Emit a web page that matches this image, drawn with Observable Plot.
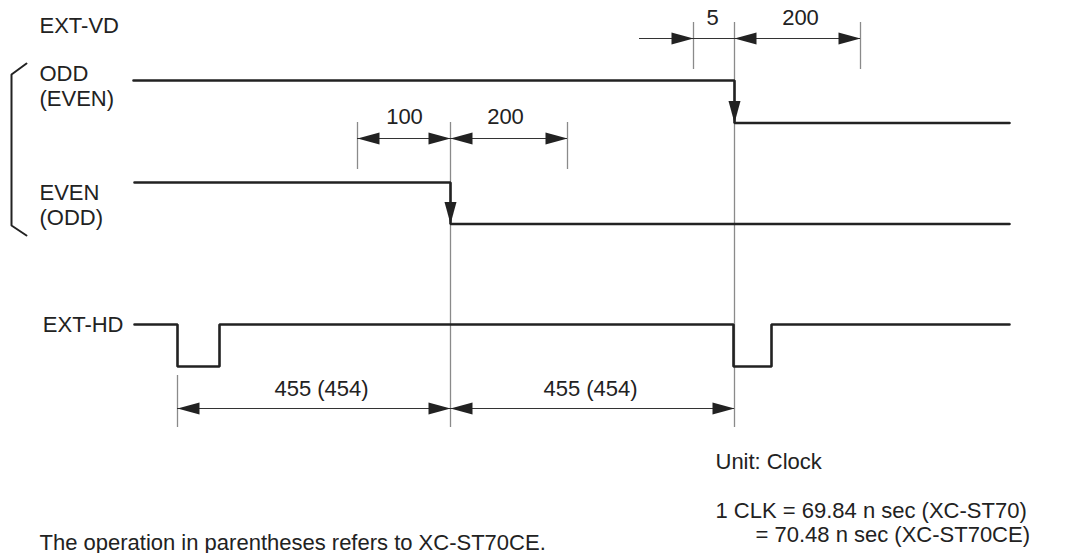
<!DOCTYPE html>
<html>
<head>
<meta charset="utf-8">
<script src="https://cdn.jsdelivr.net/npm/d3@7"></script>
<script src="https://cdn.jsdelivr.net/npm/@observablehq/plot@0.6"></script>
<style>
  html, body { margin: 0; padding: 0; background: #fff; }
  svg { display: block; }
</style>
</head>
<body>
<div id="chart"></div>
<script>
// ---- signal labels ----
const labelText = ["EXT-VD", "ODD", "(EVEN)", "EVEN", "(ODD)"];
const labelX    = [39, 39, 39, 39, 39];
const labelY    = [32, 80, 105, 199, 224];
const hdLabel   = "EXT-HD";
const hdLabelPos = [123, 324];

// ---- waveforms (schematic time positions, level positions) ----
const oddT   = [133, 734, 734, 1009];
const oddLv  = [80, 80, 122.5, 122.5];
const evenT  = [134, 450, 450, 1009];
const evenLv = [182, 182, 223.5, 223.5];
const hdT    = [134, 177, 177, 219, 219, 733, 733, 771, 771, 1009];
const hdLv   = [324, 324, 366, 366, 324, 324, 366, 366, 324, 324];

// ---- bracket ----
const bracketX = [26, 11, 11, 26];
const bracketY = [63, 74, 225, 235];

// ---- extension (reference) lines ----
const extX  = [693, 860, 734, 357, 567, 450, 177];
const extY1 = [22, 22, 22, 122, 122, 122, 375];
const extY2 = [69, 69, 427, 169, 169, 427, 427];

// ---- dimension lines ----
const dimY  = [38, 138, 408];
const dimX1 = [639, 357, 177];
const dimX2 = [860, 567, 734];

// ---- arrowheads (tip x, tip y, direction in degrees: 0 right, 90 down, 180 left) ----
const arrowX   = [693, 734, 860, 357, 450, 450, 567, 177, 450, 450, 734, 734, 450];
const arrowY   = [38, 38, 38, 138, 138, 138, 138, 408, 408, 408, 408, 122.5, 223.5];
const arrowDir = [0, 180, 0, 180, 0, 180, 0, 180, 0, 180, 0, 90, 90];

// ---- dimension values ----
const dimLabels = ["5", "200", "100", "200", "455 (454)", "455 (454)"];
const dimLabelX = [712, 800, 404, 505, 321, 590];
const dimLabelY = [24, 24, 123, 123, 395, 395];

// ---- notes ----
const noteText = ["Unit: Clock", "1 CLK = 69.84 n sec (XC-ST70)", "= 70.48 n sec (XC-ST70CE)", "The operation in parentheses refers to XC-ST70CE."];
const noteX = [715, 715, 755, 39];
const noteY = [468, 517, 541, 549];

// ---- build tables ----
const zip = (xs, ys) => xs.map((x, i) => ({x, y: ys[i]}));
const labels = labelText.map((t, i) => ({t, x: labelX[i], y: labelY[i]}));
const exts = extX.map((x, i) => ({x, y1: extY1[i], y2: extY2[i]}));
const dims = dimY.map((y, i) => ({y, x1: dimX1[i], x2: dimX2[i]}));
const arrows = arrowX.map((x, i) => ({x, y: arrowY[i], r: arrowDir[i]}));
const dimTxt = dimLabels.map((t, i) => ({t, x: dimLabelX[i], y: dimLabelY[i]}));
const notes = noteText.map((t, i) => ({t, x: noteX[i], y: noteY[i]}));

const arrowHead = {
  draw(ctx) {
    ctx.moveTo(0, 0);
    ctx.lineTo(-22, -6);
    ctx.lineTo(-22, 6);
    ctx.closePath();
  }
};

const ink = "#222";
const W = 1090, H = 553;

const chart = Plot.plot({
  width: W,
  height: H,
  margin: 0,
  x: {domain: [0, W], range: [0, W], axis: null},
  y: {domain: [0, H], range: [0, H], axis: null},
  style: {fontFamily: "'Liberation Sans', Arial, sans-serif", fontSize: "22px", background: "#fff", color: ink, overflow: "visible"},
  marks: [
    Plot.ruleX(exts, {x: "x", y1: "y1", y2: "y2", stroke: "#8a8a8a", strokeWidth: 1.3}),
    Plot.ruleY(dims, {y: "y", x1: "x1", x2: "x2", stroke: "#333", strokeWidth: 1}),
    Plot.line(zip(oddT, oddLv), {x: "x", y: "y", stroke: ink, strokeWidth: 2.6, strokeLinejoin: "miter"}),
    Plot.line(zip(evenT, evenLv), {x: "x", y: "y", stroke: ink, strokeWidth: 2.6, strokeLinejoin: "miter"}),
    Plot.line(zip(hdT, hdLv), {x: "x", y: "y", stroke: ink, strokeWidth: 2.6, strokeLinejoin: "miter"}),
    Plot.line(zip(bracketX, bracketY), {x: "x", y: "y", stroke: ink, strokeWidth: 2, strokeLinejoin: "miter"}),
    Plot.dot(arrows, {x: "x", y: "y", rotate: "r", symbol: arrowHead, fill: ink, stroke: "none", r: 5}),
    Plot.text(labels, {x: "x", y: "y", text: "t", textAnchor: "start", lineAnchor: "bottom", fill: ink}),
    Plot.text([hdLabel], {x: () => hdLabelPos[0], y: () => hdLabelPos[1], text: d => d, textAnchor: "end", lineAnchor: "middle", fill: ink}),
    Plot.text(dimTxt, {x: "x", y: "y", text: "t", textAnchor: "middle", lineAnchor: "bottom", fill: ink}),
    Plot.text(notes, {x: "x", y: "y", text: "t", textAnchor: "start", lineAnchor: "bottom", fill: ink})
  ]
});
document.getElementById("chart").append(chart);
</script>
</body>
</html>
